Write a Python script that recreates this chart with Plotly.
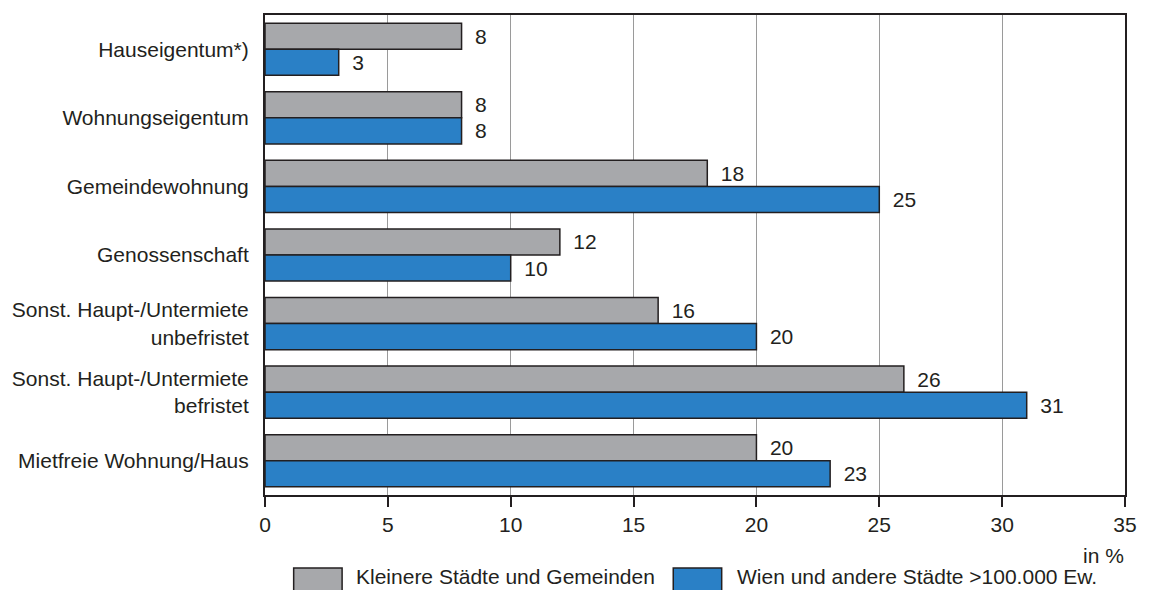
import plotly.graph_objects as go

# Wohnrechtsform nach Gemeindegröße, Angaben in Prozent
categories = [
    "Hauseigentum*)",
    "Wohnungseigentum",
    "Gemeindewohnung",
    "Genossenschaft",
    "Sonst. Haupt-/Untermiete<br>unbefristet",
    "Sonst. Haupt-/Untermiete<br>befristet",
    "Mietfreie Wohnung/Haus",
]
series_names = ["Kleinere Städte und Gemeinden", "Wien und andere Städte >100.000 Ew."]
small_towns = [8, 8, 18, 12, 16, 26, 20]
large_cities = [3, 8, 25, 10, 20, 31, 23]
x_ticks = [0, 5, 10, 15, 20, 25, 30, 35]

GRAY = "#a7a8ab"
BLUE = "#2a80c6"
INK = "#231f20"
FONT = "Liberation Sans, Arial, sans-serif"
FS = 21

W, H = 1149, 590
ML, MR, MT, MB = 262, 17, 15, 95
PW, PH = W - ML - MR, H - MT - MB


def px_to_paper_x(px):
    return (px - ML) / PW


def px_to_paper_y(py):
    return (H - MB - py) / PH


fig = go.Figure()
for name, vals, col in [(series_names[0], small_towns, GRAY), (series_names[1], large_cities, BLUE)]:
    fig.add_trace(go.Bar(
        y=categories, x=vals, orientation="h", name=name,
        marker=dict(color=col, line=dict(color=INK, width=1.5)),
        text=vals, texttemplate="\u2002%{x}", textposition="outside",
        constraintext="none", cliponaxis=False,
        textfont=dict(family=FONT, size=FS, color=INK),
        showlegend=False, hoverinfo="skip",
    ))

fig.update_layout(
    width=W, height=H,
    margin=dict(l=ML, r=MR, t=MT, b=MB),
    barmode="group", bargap=0.24, bargroupgap=0,
    plot_bgcolor="white", paper_bgcolor="white",
    font=dict(family=FONT, size=FS, color=INK),
)
fig.update_xaxes(
    range=[0, 35], tickvals=x_ticks, ticktext=[str(t) for t in x_ticks],
    showgrid=True, gridcolor="#9a9a9a", gridwidth=1.2,
    showline=True, linecolor=INK, linewidth=2, mirror=True,
    ticks="outside", ticklen=10, tickwidth=1.5, tickcolor=INK,
    tickfont=dict(family=FONT, size=FS, color=INK),
    zeroline=False,
)
fig.update_yaxes(
    autorange="reversed",
    showline=True, linecolor=INK, linewidth=2, mirror=True,
    ticks="outside", ticklen=10, tickcolor="rgba(0,0,0,0)",
    tickfont=dict(family=FONT, size=FS, color=INK),
    showgrid=False,
)

# "in %" unit label under the axis end
fig.add_annotation(
    text="in %", xref="paper", yref="paper",
    x=px_to_paper_x(1133), y=px_to_paper_y(555), xanchor="right", yanchor="middle",
    showarrow=False, font=dict(family=FONT, size=FS, color=INK),
)

# legend drawn as boxes with labels below the chart
legend_items = [
    (291, 340, 352, GRAY, series_names[0]),
    (675, 724, 737, BLUE, series_names[1]),
]
for x0, x1, tx, col, label in legend_items:
    fig.add_shape(
        type="rect", xref="paper", yref="paper",
        x0=px_to_paper_x(x0), x1=px_to_paper_x(x1),
        y0=px_to_paper_y(568), y1=px_to_paper_y(594),
        fillcolor=col, line=dict(color=INK, width=1.5),
    )
    fig.add_annotation(
        text=label, xref="paper", yref="paper",
        x=px_to_paper_x(tx), y=px_to_paper_y(590), xanchor="left", yanchor="bottom",
        showarrow=False, font=dict(family=FONT, size=FS, color=INK),
    )

fig.write_html("out.html")
